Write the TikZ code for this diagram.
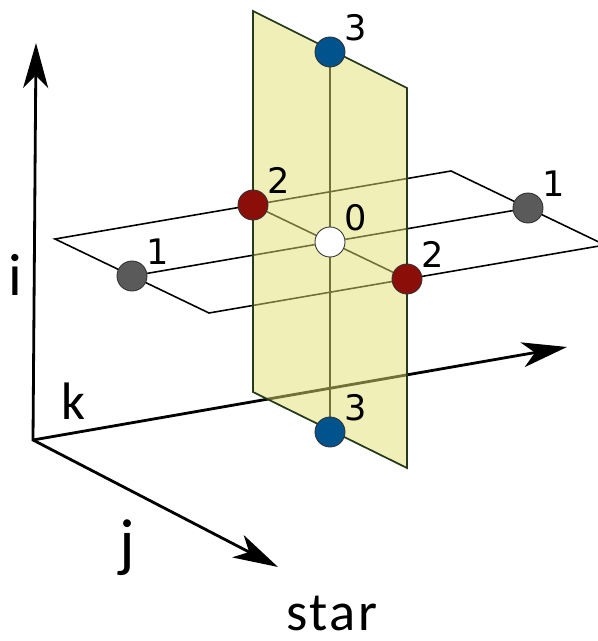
\documentclass[tikz,border=0pt]{standalone}
\usepackage{fontspec}
\setmainfont{DejaVu Sans}
\newfontfamily\axisfont{Carlito}[LetterSpace=5]
\usepackage{xcolor}
\definecolor{wallyellow}{RGB}{226,224,114}
\definecolor{walledge}{RGB}{38,58,28}
\definecolor{iblue}{RGB}{0,83,140}
\definecolor{jred}{RGB}{140,14,8}
\definecolor{kgray}{RGB}{90,90,90}
\usepackage{tikz}
\usetikzlibrary{positioning, arrows.meta, backgrounds}
\tikzset{
  ball/.style    = {circle, draw=black!80, line width=0.5pt, minimum size=6mm, inner sep=0pt},
  num/.style     = {inner sep=0pt, font=\fontsize{20}{22}\selectfont},
  axlabel/.style = {inner sep=0pt, font=\axisfont\fontsize{#1}{#1}\selectfont},
  edge/.style    = {line width=0.9pt, draw=black},
  axis/.style    = {line width=1.6pt, draw=black, >={Stealth[length=9mm, width=5mm, inset=2.5mm]}},
  wall/.style    = {line width=1pt, draw=walledge, fill=wallyellow, fill opacity=0.5},
}

\begin{document}
\begin{tikzpicture}[x=1cm, y=1cm]
    \useasboundingbox (0,0) rectangle (11.94,12.82);

    % states on the three directions
    \node[ball, fill=white] (n0)  at (6.60,7.98)  {};
    \node[ball, fill=kgray] (k1l) at (2.64,7.30)  {};
    \node[ball, fill=kgray] (k1r) at (10.56,8.66) {};
    \node[ball, fill=jred]  (j2b) at (5.06,8.72)  {};
    \node[ball, fill=jred]  (j2f) at (8.14,7.24)  {};
    \node[ball, fill=iblue] (i3t) at (6.60,11.78) {};
    \node[ball, fill=iblue] (i3b) at (6.60,4.18)  {};

    % values next to the states
    \node[num, above right=0pt and 2pt of n0]  (v0)  {0};
    \node[num, above right=0pt and 2pt of k1l] (v1l) {1};
    \node[num, above right=0pt and 2pt of k1r] (v1r) {1};
    \node[num, above right=0pt and 2pt of j2b] (v2b) {2};
    \node[num, above right=0pt and 2pt of j2f] (v2f) {2};
    \node[num, above right=0pt and 2pt of i3t] (v3t) {3};
    \node[num, above right=0pt and 2pt of i3b] (v3b) {3};

    % corners of the horizontal plane
    \coordinate (hl) at (1.10,8.04);
    \coordinate (hb) at (9.02,9.40);
    \coordinate (hr) at (12.10,7.92);
    \coordinate (hf) at (4.18,6.56);

    % corners of the vertical plane
    \coordinate (vtb) at (5.06,12.60);
    \coordinate (vtf) at (8.14,11.06);
    \coordinate (vbf) at (8.14,3.46);
    \coordinate (vbb) at (5.06,4.98);

    % axis ends
    \coordinate (o)    at (0.66,4.02);
    \coordinate (itip) at (0.72,11.96);
    \coordinate (jtip) at (5.56,1.48);
    \coordinate (ktip) at (11.34,5.88);

    \begin{scope}[on background layer]
      % horizontal plane
      \draw[edge] (hl) -- (hb) -- (hr) -- (hf) -- cycle;
      \draw[edge] (k1l) -- (n0) -- (k1r);
      \draw[edge] (j2b) -- (n0) -- (j2f);
      \draw[edge] (i3t) -- (n0) -- (i3b);

      % axes
      \draw[axis, <->] (itip) -- (o) -- (jtip);
      \draw[axis, ->] (o) -- (ktip);

      % vertical plane
      \filldraw[wall] (vtb) -- (vtf) -- (vbf) -- (vbb) -- cycle;
    \end{scope}

    % axis names
    \node[axlabel=34] (li)    at (0.31,7.33) {i};
    \node[axlabel=30] (lk)    at (1.47,4.80) {k};
    \node[axlabel=37] (lj)    at (2.55,1.87) {j};
    \node[axlabel=31] (lstar) at (6.64,0.56) {star};
\end{tikzpicture}
\end{document}
